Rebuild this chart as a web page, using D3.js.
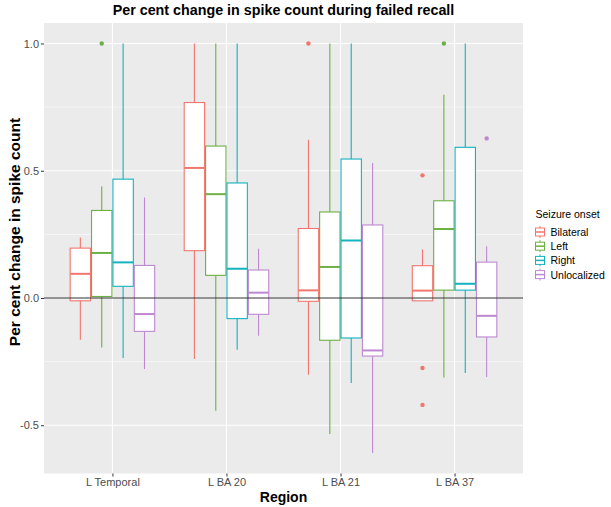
<!DOCTYPE html>
<html><head><meta charset="utf-8">
<script src="https://d3js.org/d3.v7.min.js"></script>
<style>body{margin:0;background:#fff;} svg{display:block;font-family:"Liberation Sans",Arial,sans-serif;}</style>
</head><body>
<svg id="chart" width="611" height="507"></svg>
<script>
const regions = ["L Temporal", "L BA 20", "L BA 21", "L BA 37"];
const groups = ["Bilateral", "Left", "Right", "Unlocalized"];
const colors = ["#F2766F", "#6DB043", "#14B2BE", "#BC89D0"];
const yTicks = [-0.5, 0.0, 0.5, 1.0];
const yTickLabels = ["-0.5", "0.0", "0.5", "1.0"];
// [whiskerLow, q1, median, q3, whiskerHigh] per region, per group
const statsBilateral = [
  [-0.164, -0.011, 0.095, 0.196, 0.238],
  [-0.240, 0.186, 0.511, 0.768, 1.0],
  [-0.301, -0.013, 0.030, 0.273, 0.622],
  [-0.012, -0.011, 0.029, 0.127, 0.191]
];
const statsLeft = [
  [-0.194, 0.006, 0.177, 0.344, 0.438],
  [-0.443, 0.089, 0.408, 0.597, 1.0],
  [-0.534, -0.166, 0.122, 0.338, 1.0],
  [-0.312, 0.031, 0.271, 0.382, 0.799]
];
const statsRight = [
  [-0.236, 0.046, 0.140, 0.467, 1.0],
  [-0.203, -0.081, 0.115, 0.452, 1.0],
  [-0.334, -0.157, 0.226, 0.546, 1.0],
  [-0.295, 0.031, 0.056, 0.592, 1.0]
];
const statsUnlocalized = [
  [-0.279, -0.131, -0.063, 0.128, 0.395],
  [-0.148, -0.064, 0.021, 0.110, 0.194],
  [-0.609, -0.228, -0.206, 0.287, 0.530],
  [-0.310, -0.153, -0.070, 0.141, 0.203]
];
// outliers: [regionIndex, groupIndex, value]
const outliers = [
  [0, 1, 1.0],
  [2, 0, 1.0],
  [3, 0, 0.482], [3, 0, -0.275], [3, 0, -0.420],
  [3, 1, 1.0],
  [3, 3, 0.627]
];

const allStats = [statsBilateral, statsLeft, statsRight, statsUnlocalized];
const svg = d3.select("#chart");
const P = {l: 44, r: 523, t: 23, b: 473.5};

// y domain with ggplot-style 5% expansion
const allVals = allStats.flat().flat().concat(outliers.map(o => o[2]));
const vmin = d3.min(allVals), vmax = d3.max(allVals);
const span = vmax - vmin;
const y = d3.scaleLinear().domain([vmin - 0.05 * span, vmax + 0.05 * span]).range([P.b, P.t]);
// ggplot: discrete expansion 0.6 units each side
const x = d3.scalePoint().domain(regions).range([P.l, P.r]).padding(0.6);
const step = x.step();
const dodge = d3.scaleBand().domain(groups).range([-0.375 * step, 0.375 * step]);

// panel
svg.append("rect").attr("x", P.l).attr("y", P.t).attr("width", P.r - P.l).attr("height", P.b - P.t).attr("fill", "#EBEBEB");
const minor = [-0.25, 0.25, 0.75];
svg.append("g").selectAll("line").data(minor).join("line")
  .attr("x1", P.l).attr("x2", P.r).attr("y1", d => y(d)).attr("y2", d => y(d))
  .attr("stroke", "#fff").attr("stroke-width", 0.55);
svg.append("g").selectAll("line").data(yTicks).join("line")
  .attr("x1", P.l).attr("x2", P.r).attr("y1", d => y(d)).attr("y2", d => y(d))
  .attr("stroke", "#fff").attr("stroke-width", 1.1);
svg.append("g").selectAll("line").data(regions).join("line")
  .attr("x1", d => x(d)).attr("x2", d => x(d)).attr("y1", P.t).attr("y2", P.b)
  .attr("stroke", "#fff").attr("stroke-width", 1.1);

// boxes
const bw = dodge.bandwidth();
const boxes = [];
regions.forEach((r, ri) => groups.forEach((g, gi) => {
  boxes.push({gi, s: allStats[gi][ri], cx: x(r) + dodge(g) + bw / 2});
}));
const bg = svg.append("g");
boxes.forEach(b => {
  const c = colors[b.gi];
  const [lo, q1, md, q3, hi] = b.s;
  bg.append("line").attr("x1", b.cx).attr("x2", b.cx).attr("y1", y(hi)).attr("y2", y(q3)).attr("stroke", c).attr("stroke-width", 1.1);
  bg.append("line").attr("x1", b.cx).attr("x2", b.cx).attr("y1", y(q1)).attr("y2", y(lo)).attr("stroke", c).attr("stroke-width", 1.1);
  bg.append("rect").attr("x", b.cx - bw / 2 + 0.5).attr("width", bw - 1).attr("y", y(q3)).attr("height", y(q1) - y(q3))
    .attr("fill", "#fff").attr("stroke", c).attr("stroke-width", 1.1);
  bg.append("line").attr("x1", b.cx - bw / 2 + 0.5).attr("x2", b.cx + bw / 2 - 0.5).attr("y1", y(md)).attr("y2", y(md)).attr("stroke", c).attr("stroke-width", 2);
});
svg.append("g").selectAll("circle").data(outliers).join("circle")
  .attr("cx", d => x(regions[d[0]]) + dodge(groups[d[1]]) + bw / 2)
  .attr("cy", d => y(d[2])).attr("r", 2.2).attr("fill", d => colors[d[1]]);

// hline at 0
svg.append("line").attr("x1", P.l).attr("x2", P.r).attr("y1", y(0)).attr("y2", y(0)).attr("stroke", "#333").attr("stroke-width", 1.1);

// axes
const yAxis = svg.append("g").attr("transform", `translate(${P.l},0)`)
  .call(d3.axisLeft(y).tickValues(yTicks).tickFormat((d, i) => yTickLabels[i]).tickSize(3).tickPadding(2));
yAxis.select(".domain").remove();
yAxis.selectAll("line").attr("stroke", "#333");
yAxis.selectAll("text").attr("fill", "#4d4d4d").attr("font-size", 11).style("font-family", "Liberation Sans, Arial, sans-serif");

const xAxis = svg.append("g").attr("transform", `translate(0,${P.b})`)
  .call(d3.axisBottom(x).tickSize(3).tickPadding(2));
xAxis.select(".domain").remove();
xAxis.selectAll("line").attr("stroke", "#333");
xAxis.selectAll("text").attr("fill", "#4d4d4d").attr("font-size", 11).style("font-family", "Liberation Sans, Arial, sans-serif");

// titles
svg.append("text").attr("x", (P.l + P.r) / 2).attr("y", 15).attr("text-anchor", "middle")
  .attr("font-weight", "bold").attr("font-size", 14.3).text("Per cent change in spike count during failed recall");
svg.append("text").attr("x", (P.l + P.r) / 2).attr("y", 502).attr("text-anchor", "middle")
  .attr("font-weight", "bold").attr("font-size", 14).text("Region");
svg.append("text").attr("transform", `translate(20,232) rotate(-90)`).attr("text-anchor", "middle")
  .attr("font-weight", "bold").attr("font-size", 15.5).text("Per cent change in spike count");

// legend
const lg = svg.append("g");
lg.append("text").attr("x", 535.5).attr("y", 218).attr("font-size", 10.5).attr("fill", "#000").text("Seizure onset");
groups.forEach((g, i) => {
  const cy = 232 + i * 14.2;
  const c = colors[i];
  lg.append("line").attr("x1", 540).attr("x2", 540).attr("y1", cy - 6).attr("y2", cy + 6).attr("stroke", c).attr("stroke-width", 1);
  lg.append("rect").attr("x", 535.5).attr("y", cy - 4).attr("width", 9).attr("height", 8).attr("fill", "#fff").attr("stroke", c).attr("stroke-width", 1);
  lg.append("line").attr("x1", 535.5).attr("x2", 544.5).attr("y1", cy).attr("y2", cy).attr("stroke", c).attr("stroke-width", 1.5);
  lg.append("text").attr("x", 550.5).attr("y", cy + 4).attr("font-size", 10.5).text(g);
});
</script>
</body></html>
